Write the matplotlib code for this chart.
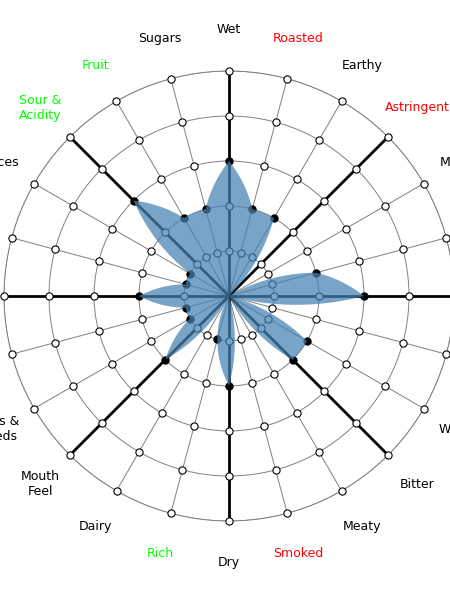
import numpy as np
import matplotlib
matplotlib.use('Agg')
import matplotlib.pyplot as plt
from matplotlib.path import Path

plt.rc('font', family='DejaVu Sans', size=9)

# categories clockwise from the top (Wet), 15 degrees apart
labels = ['Wet', 'Roasted', 'Earthy', 'Astringent', 'Musky', 'Floral',
          'Vegetal', 'Herbal', 'Woody', 'Bitter', 'Meaty', 'Smoked',
          'Dry', 'Rich', 'Dairy', 'Mouth\nFeel', 'Nuts &\nSeeds', 'Umami',
          'Savory', 'Salty', 'Spices', 'Sour &\nAcidity', 'Fruit', 'Sugars']
label_colors = ['black', 'red', 'black', 'red', 'black', 'black',
                'black', 'black', 'black', 'black', 'black', 'red',
                'black', 'lime', 'black', 'black', 'black', 'black',
                'black', 'black', 'black', 'lime', 'lime', 'black']
values = [3, 2, 2, 0, 0, 2,
          3, 0, 2, 2, 0, 0,
          2, 1, 0, 2, 1, 1,
          2, 1, 1, 3, 2, 2]
rings = [1, 2, 3, 4, 5]

n = len(labels)
theta = np.deg2rad(90 - 15 * np.arange(n))

fig = plt.figure(figsize=(4.5, 6), dpi=100)
ax = fig.add_axes([4 / 450, 79 / 600, 1.0, 0.75], projection='polar')
ax.set_ylim(0, 5)

# thin grid: rings and spokes
ax.set_rgrids(rings)
ax.set_thetagrids(np.arange(0, 360, 15))
ax.grid(True, color='#808080', lw=0.7)
ax.set_xticklabels([])
ax.set_yticklabels([])
ax.tick_params(length=0)
ax.spines['polar'].set_color('#808080')
ax.spines['polar'].set_linewidth(0.7)

# thick main axes every 45 degrees
for th in theta[::3]:
    ax.plot([th, th], [0, rings[-1]], color='black', lw=2.0, zorder=3, clip_on=False)

# ring markers on every spoke
for th, v in zip(theta, values):
    for r in rings:
        fc = 'black' if r == v else 'white'
        ax.plot(th, r, 'o', ms=5.2, mfc=fc, mec='black', mew=0.8, zorder=4, clip_on=False)

# flower shape: straight segments in (theta, r) space
th_closed = np.append(theta, theta[0] - 2 * np.pi)
v_closed = np.append(values, values[0])
shape = Path(np.column_stack([th_closed, v_closed])).interpolated(40)
ax.fill(shape.vertices[:, 0], shape.vertices[:, 1], color='steelblue',
        alpha=0.73, lw=0, zorder=5)

for th, lab, c in zip(theta, labels, label_colors):
    ax.text(th, 5.92, lab, ha='center', va='center', color=c, fontsize=9)

fig.savefig('out.png', dpi=100)
